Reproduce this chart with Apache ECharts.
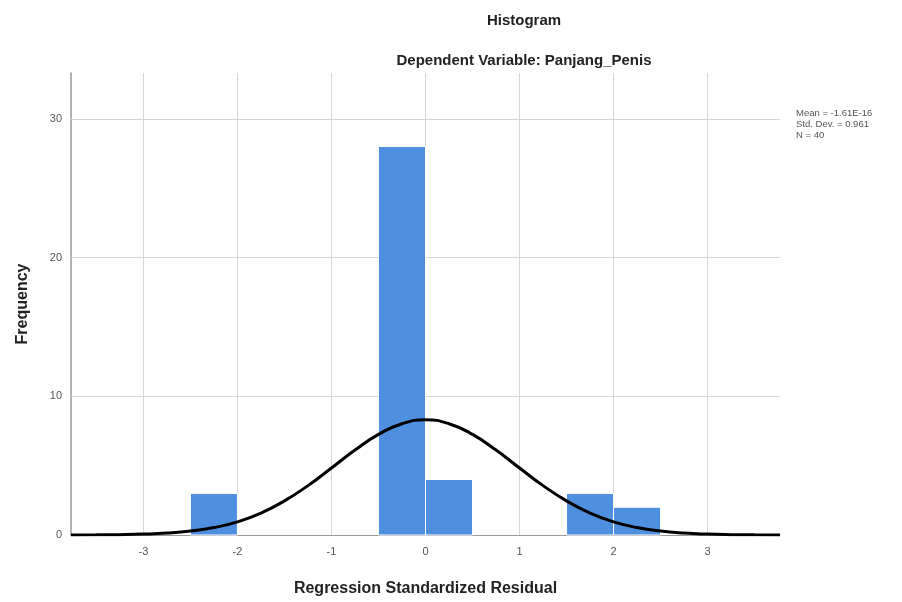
<!DOCTYPE html>
<html><head><meta charset="utf-8">
<script src="https://cdn.jsdelivr.net/npm/echarts@6/dist/echarts.min.js"></script>
<style>html,body{margin:0;padding:0;background:#fff}#c{width:902px;height:602px}</style>
</head><body><div id="c"></div>
<script>
// Histogram bins (lower edge, upper edge) and frequencies
const binStart = [-2.5, -0.5, 0.0, 1.5, 2.0];
const binEnd   = [-2.0,  0.0, 0.5, 2.0, 2.5];
const freq     = [3, 28, 4, 3, 2];
// Normal curve (x, frequency)
const curveX = [-3.77,-3.5,-3.25,-3.0,-2.75,-2.5,-2.25,-2.0,-1.75,-1.5,-1.25,-1.0,-0.75,-0.5,-0.25,0,0.25,0.5,0.75,1.0,1.25,1.5,1.75,2.0,2.25,2.5,2.75,3.0,3.25,3.5,3.77];
const curveY = [0.004,0.011,0.027,0.064,0.138,0.281,0.535,0.95,1.58,2.46,3.56,4.83,6.12,7.25,8.02,8.30,8.02,7.25,6.12,4.83,3.56,2.46,1.58,0.95,0.535,0.281,0.138,0.064,0.027,0.011,0.004];
const xTicks = [-3,-2,-1,0,1,2,3];
const yTicks = [0,10,20,30];
const statLines = ['Mean = -1.61E-16', 'Std. Dev. = 0.961', 'N = 40'];

const chart = echarts.init(document.getElementById('c'), null, {renderer:'canvas'});
const font = 'Arial, "Liberation Sans", sans-serif';
const gridColor = '#d6d6d6';
chart.setOption({
  animation:false,
  backgroundColor:'#fff',
  title:[
    {text:'Histogram', left:519, top:8, textAlign:'center', textStyle:{fontFamily:font,fontSize:15,fontWeight:'bold',color:'#222'}},
    {text:'Dependent Variable: Panjang_Penis', left:519, top:48, textAlign:'center', textStyle:{fontFamily:font,fontSize:15,fontWeight:'bold',color:'#222'}},
    {text:statLines.join('\n'), left:791, top:103, textStyle:{fontFamily:font,fontSize:9.5,fontWeight:'normal',color:'#555',lineHeight:11}}
  ],
  grid:{left:71, right:122, top:73, bottom:66},
  xAxis:{
    type:'value', min:-3.77, max:3.77,
    name:'Regression Standardized Residual', nameLocation:'middle', nameGap:46,
    nameTextStyle:{fontFamily:font,fontSize:16,fontWeight:'bold',color:'#222'},
    axisLine:{show:true,onZero:false,lineStyle:{color:'#999',width:1}},
    axisTick:{show:false},
    splitLine:{show:false},
    axisLabel:{customValues:xTicks, fontFamily:font, fontSize:11, color:'#555', margin:11}
  },
  yAxis:{
    type:'value', min:0, max:33.3,
    name:'Frequency', nameLocation:'middle', nameGap:40, nameRotate:90,
    nameTextStyle:{fontFamily:font,fontSize:16,fontWeight:'bold',color:'#222'},
    axisLine:{show:true,onZero:false,lineStyle:{color:'#999',width:1.5}},
    axisTick:{show:false},
    splitLine:{show:false},
    axisLabel:{customValues:yTicks, fontFamily:font,fontSize:11,color:'#555',margin:9}
  },
  series:[
    {
      type:'custom',
      data: freq.map((f,i)=>[binStart[i], binEnd[i], f]),
      encode:{x:[0,1], y:2},
      z:2,
      renderItem:function(params, api){
        const p0 = api.coord([api.value(0), api.value(2)]);
        const p1 = api.coord([api.value(1), 0]);
        return {type:'rect', shape:{x:p0[0], y:p0[1], width:p1[0]-p0[0], height:p1[1]-p0[1]},
          style:{fill:'#4f8fe0', stroke:'#ffffff', lineWidth:1}};
      },
      markLine:{
        silent:true, symbol:'none', label:{show:false}, z:1,
        lineStyle:{color:gridColor, width:1, type:'solid'},
        data: xTicks.map(v=>({xAxis:v})).concat(yTicks.filter(v=>v>0).map(v=>({yAxis:v})))
      }
    },
    {
      type:'line', smooth:true, showSymbol:false, z:5,
      lineStyle:{color:'#000', width:3},
      data: curveX.map((x,i)=>[x, curveY[i]])
    }
  ]
});
</script></body></html>
